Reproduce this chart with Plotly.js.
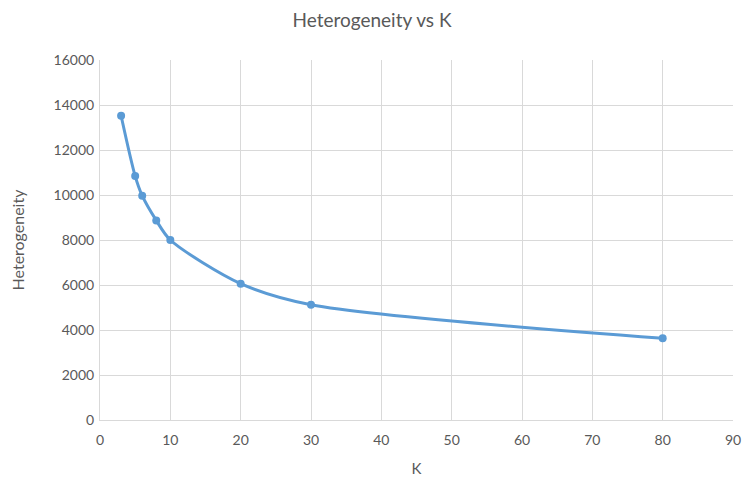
<!DOCTYPE html>
<html>
<head>
<meta charset="utf-8">
<script src="https://cdn.plot.ly/plotly-3.0.1.min.js"></script>
<style>html,body{margin:0;padding:0;background:#fff;}#chart{width:744px;height:477px;}</style>
</head>
<body>
<div id="chart"></div>
<script>
const kValues = [3, 5, 6, 8, 10, 20, 30, 80];
const heterogeneity = [13520, 10840, 9970, 8870, 8000, 6060, 5120, 3630];
const xTicks = [0, 10, 20, 30, 40, 50, 60, 70, 80, 90];
const yTicks = [0, 2000, 4000, 6000, 8000, 10000, 12000, 14000, 16000];

const font = "Lato, 'Open Sans', sans-serif";
Plotly.newPlot('chart', [{
  x: kValues,
  y: heterogeneity,
  type: 'scatter',
  mode: 'lines+markers',
  line: {color: '#5b9bd5', width: 3, shape: 'spline', smoothing: 0.8},
  marker: {color: '#5b9bd5', size: 8},
  showlegend: false,
  hoverinfo: 'x+y'
}], {
  width: 744, height: 477,
  margin: {l: 100, r: 11, t: 60, b: 57},
  paper_bgcolor: '#fff', plot_bgcolor: '#fff',
  title: {text: 'Heterogeneity vs K', x: 0.5, xanchor: 'center', y: 0.958, yanchor: 'middle',
          font: {family: font, size: 19, color: '#595959'}},
  xaxis: {
    range: [0, 90], tickvals: xTicks, ticktext: xTicks.map(String),
    showgrid: true, gridcolor: '#d9d9d9', gridwidth: 1,
    zeroline: false, showline: true, linecolor: '#d9d9d9', linewidth: 1,
    ticks: '', ticklabelstandoff: 7, tickfont: {family: font, size: 14, color: '#595959'},
    title: {text: 'K', font: {family: font, size: 15, color: '#595959'}, standoff: 18}
  },
  yaxis: {
    range: [0, 16000], tickvals: yTicks, ticktext: yTicks.map(String),
    showgrid: true, gridcolor: '#d9d9d9', gridwidth: 1,
    zeroline: false, showline: true, linecolor: '#d9d9d9', linewidth: 1,
    ticks: '', ticklen: 0, ticklabelstandoff: 2, tickfont: {family: font, size: 14, color: '#595959'},
    title: {text: 'Heterogeneity', font: {family: font, size: 16, color: '#595959'}, standoff: 24}
  }
}, {displayModeBar: false, staticPlot: true});
</script>
</body>
</html>
